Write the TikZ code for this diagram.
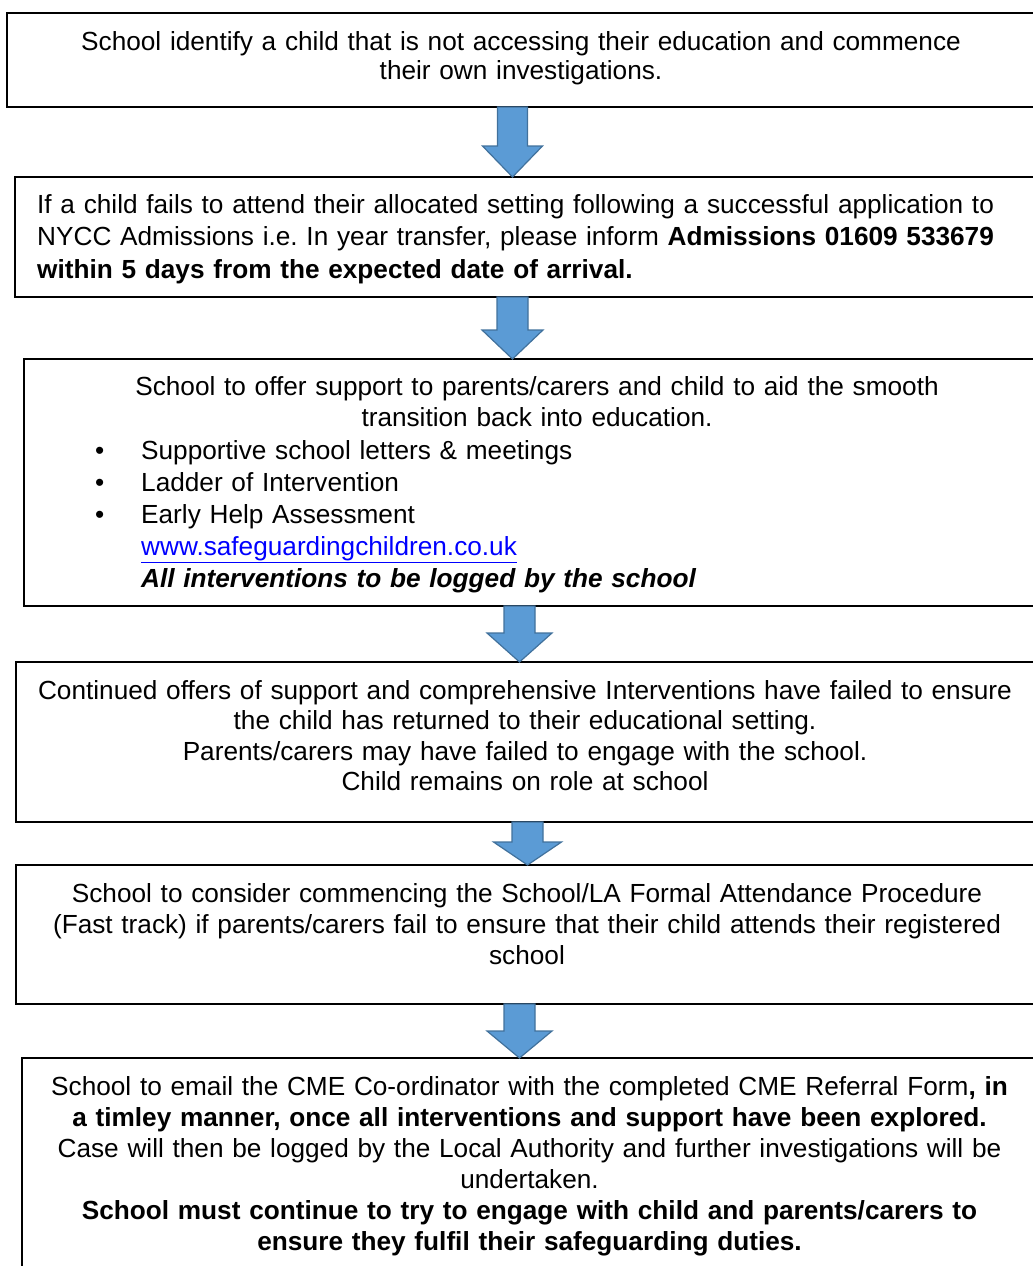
\documentclass[tikz,border=0pt]{standalone}
\usepackage{fontspec}
\setmainfont{Liberation Sans}
\usetikzlibrary{calc}
\definecolor{arrowblue}{HTML}{5B9BD5}
\definecolor{arrowedge}{HTML}{41719C}
\definecolor{linkblue}{HTML}{0000FF}
\newcommand\flowarrow[6]{%
  \filldraw[blockarrow] let \p1=(#1.south), \p2=(#2.north) in
    ({#3pt-#4pt},\y1) -- ({#3pt+#4pt},\y1) -- ({#3pt+#4pt},{\y2+#6pt})
    -- ({#3pt+#5pt},{\y2+#6pt}) -- ({#3pt},\y2) -- ({#3pt-#5pt},{\y2+#6pt})
    -- ({#3pt-#4pt},{\y2+#6pt}) -- cycle;}
\frenchspacing
\begin{document}
\begin{tikzpicture}[x=1pt,y=-1pt,
  box/.style={draw=black, line width=1.5pt, anchor=north west, inner sep=0pt, outer sep=0pt},
  blockarrow/.style={fill=arrowblue, draw=arrowedge, line width=1.2pt, line join=miter},
  ctext/.style={inner sep=0pt, text width=1000pt, align=center, anchor=base,
    font=\fontsize{26.2}{#1}\selectfont\frenchspacing},
  ltext/.style={inner sep=0pt, text width=1000pt, align=left, anchor=base west,
    font=\fontsize{26.2}{#1}\selectfont\frenchspacing}]
\useasboundingbox (0,0) rectangle (1033,1266);

% boxes
\node[box, minimum width=1040pt, minimum height=94pt]  (b1) at (7,13) {};
\node[box, minimum width=1040pt, minimum height=120pt] (b2) at (15,177) {};
\node[box, minimum width=1030pt, minimum height=247pt] (b3) at (24,359) {};
\node[box, minimum width=1040pt, minimum height=160pt] (b4) at (16,662) {};
\node[box, minimum width=1040pt, minimum height=139pt] (b5) at (16,865) {};
\node[box, minimum width=1040pt, minimum height=240pt] (b6) at (22,1058) {};

% texts
\node[ctext=29] (t1) at (521,50) {School identify a child that is not accessing their education and commence\\their own investigations.};

\node[ltext=32.5] (t2) at (37,213) {If a child fails to attend their allocated setting following a successful application to\\NYCC Admissions i.e.\ In year transfer, please inform \textbf{Admissions 01609 533679}\\\textbf{within 5 days from the expected date of arrival.}};

\node[ctext=31] (t3) at (537,395) {School to offer support to parents/carers and child to aid the smooth\\transition back into education.};
\node[ltext=32] (t3b) at (95,459) {•\\•\\•};
\node[ltext=32] (t3l) at (141,459) {Supportive school letters \& meetings\\Ladder of Intervention\\Early Help Assessment\\\textcolor{linkblue}{\underline{www.safeguardingchildren.co.uk}}\\\textbf{\textit{All interventions to be logged by the school}}};

\node[ctext=30.5] (t4) at (525,699) {Continued offers of support and comprehensive Interventions have failed to ensure\\the child has returned to their educational setting.\\Parents/carers may have failed to engage with the school.\\Child remains on role at school};

\node[ctext=31] (t5) at (527,902) {School to consider commencing the School/LA Formal Attendance Procedure\\(Fast track) if parents/carers fail to ensure that their child attends their registered\\school};

\node[ctext=31] (t6) at (529.5,1095) {School to email the CME Co-ordinator with the completed CME Referral Form\textbf{, in}\\\textbf{a timley manner, once all interventions and support have been explored.}\\Case will then be logged by the Local Authority and further investigations will be\\undertaken.\\\textbf{School must continue to try to engage with child and parents/carers to}\\\textbf{ensure they fulfil their safeguarding duties.}};

% arrows
\flowarrow{b1}{b2}{512.5}{15}{30}{31}
\flowarrow{b2}{b3}{512.5}{15.5}{30.5}{29}
\flowarrow{b3}{b4}{519.5}{15.5}{32.5}{29}
\flowarrow{b4}{b5}{527.5}{15.5}{34}{23}
\flowarrow{b5}{b6}{519.5}{15.5}{32.5}{27}
\end{tikzpicture}
\end{document}
